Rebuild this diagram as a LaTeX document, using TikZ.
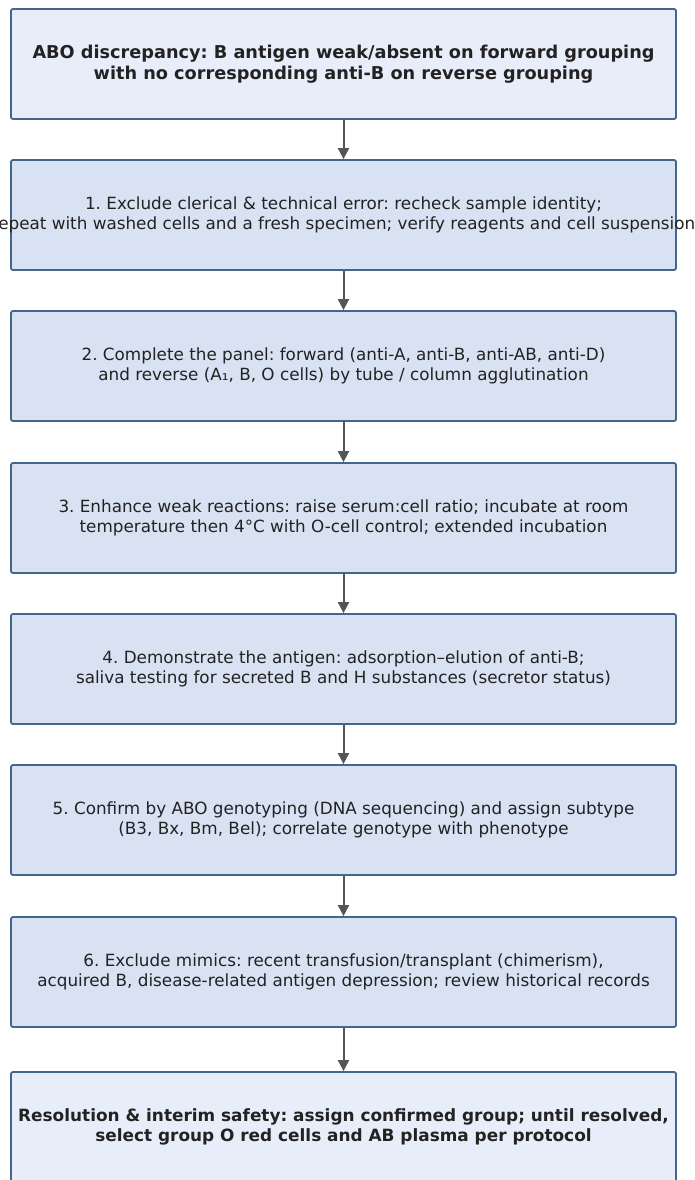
\documentclass[tikz,border=0pt]{standalone}
\usepackage{fontspec}
\setmainfont{DejaVu Sans}
\usetikzlibrary{arrows.meta}
\frenchspacing
\definecolor{startfill}{HTML}{E8EEF9}
\definecolor{stepfill}{HTML}{D9E2F3}
\definecolor{edgeblue}{HTML}{41678F}
\definecolor{arrowgray}{HTML}{555555}
\definecolor{txt}{HTML}{222222}
\tikzset{
  box/.style={draw=edgeblue, line width=1.8pt, rounded corners=2pt, minimum width=665pt, minimum height=110pt, inner sep=0pt},
  stepbox/.style={box, fill=stepfill},
  endbox/.style={box, fill=startfill},
  steptext/.style={align=center, text=txt, inner sep=0pt, font=\fontsize{16.8}{19.5}\selectfont},
  endtext/.style={steptext, font=\fontsize{17.2}{20.5}\selectfont\bfseries},
  conn/.style={arrowgray, line width=2pt, -{Triangle[length=11pt,width=11pt]}}
}
\begin{document}
\begin{tikzpicture}[x=1pt,y=-1pt]
\useasboundingbox (0,0) rectangle (695,1180);
\node[endbox] (s) at (343.5,64) {};
\node[stepbox] (a1) at (343.5,215) {};
\node[stepbox] (a2) at (343.5,366) {};
\node[stepbox] (a3) at (343.5,518) {};
\node[stepbox] (a4) at (343.5,669) {};
\node[stepbox] (a5) at (343.5,820) {};
\node[stepbox] (a6) at (343.5,972) {};
\node[endbox] (e) at (343.5,1127) {};
\node[endtext, font=\fontsize{17.7}{20.5}\selectfont\bfseries] (ts) at (s.center) {ABO discrepancy: B antigen weak/absent on forward grouping\\with no corresponding anti-B on reverse grouping};
\node[steptext] (t1) at (a1.center) {1. Exclude clerical \& technical error: recheck sample identity;\\repeat with washed cells and a fresh specimen; verify reagents and cell suspension};
\node[steptext] (t2) at (a2.center) {2. Complete the panel: forward (anti-A, anti-B, anti-AB, anti-D)\\and reverse (A₁, B, O cells) by tube / column agglutination};
\node[steptext] (t3) at (a3.center) {3. Enhance weak reactions: raise serum:cell ratio; incubate at room\\temperature then 4°C with O-cell control; extended incubation};
\node[steptext] (t4) at (a4.center) {4. Demonstrate the antigen: adsorption–elution of anti-B;\\saliva testing for secreted B and H substances (secretor status)};
\node[steptext] (t5) at (a5.center) {5. Confirm by ABO genotyping (DNA sequencing) and assign subtype\\(B3, Bx, Bm, Bel); correlate genotype with phenotype};
\node[steptext] (t6) at (a6.center) {6. Exclude mimics: recent transfusion/transplant (chimerism),\\acquired B, disease-related antigen depression; review historical records};
\node[endtext, font=\fontsize{16.9}{20.5}\selectfont\bfseries] (te) at (e.center) {Resolution \& interim safety: assign confirmed group; until resolved,\\select group O red cells and AB plasma per protocol};
\draw[conn] (s) -- (a1);
\draw[conn] (a1) -- (a2);
\draw[conn] (a2) -- (a3);
\draw[conn] (a3) -- (a4);
\draw[conn] (a4) -- (a5);
\draw[conn] (a5) -- (a6);
\draw[conn] (a6) -- (e);
\end{tikzpicture}
\end{document}
